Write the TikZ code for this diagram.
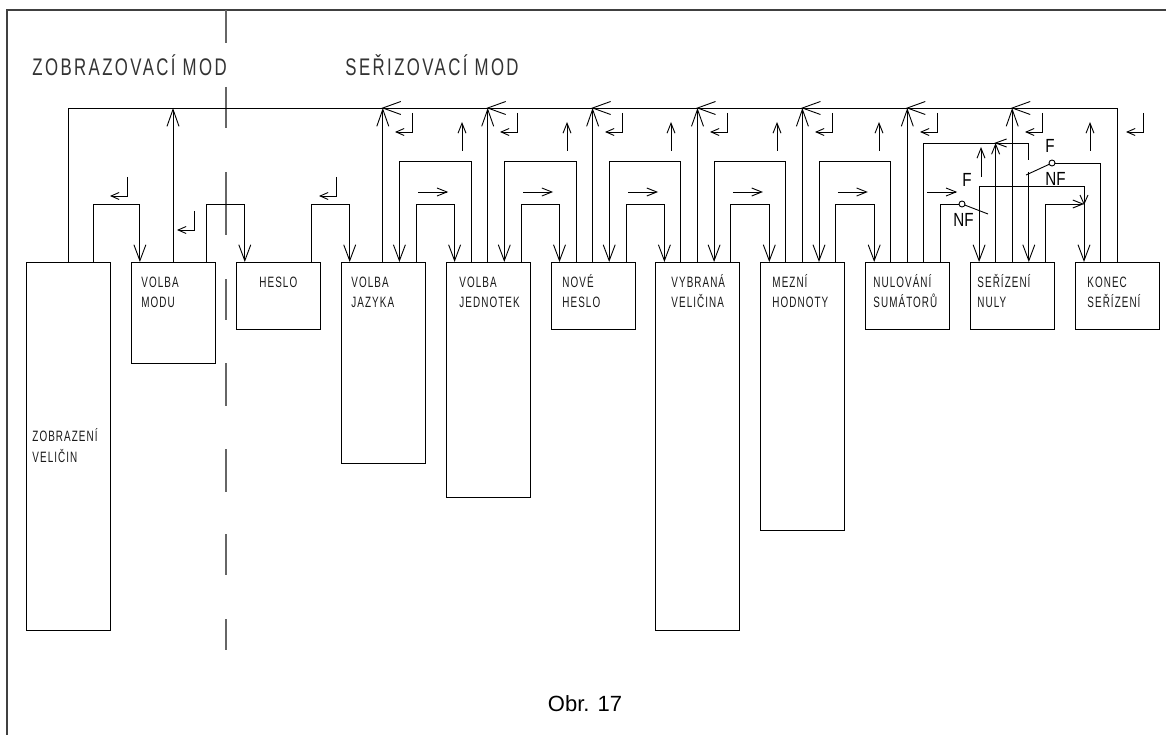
\documentclass[tikz,border=0pt]{standalone}
\usepackage{fontspec}
\setmainfont{Liberation Sans}
\newfontfamily\isof[FakeStretch=0.7,LetterSpace=10]{Liberation Sans}
\newfontfamily\isob[FakeStretch=0.66,LetterSpace=7]{Liberation Sans}
\newfontfamily\flf[FakeStretch=0.8]{Liberation Sans}
\usetikzlibrary{arrows.meta,calc}
\begin{document}
\begin{tikzpicture}[x=1pt,y=-1pt, line width=0.9pt,
 box/.style={draw, rectangle, inner sep=0pt, outer sep=0pt, minimum width=84pt, anchor=north west},
 lbl/.style={anchor=base west, inner sep=0pt, text=black!90, font=\isob\fontsize{15pt}{17pt}\selectfont},
 ttl/.style={anchor=base west, inner sep=0pt, text=black!80, font=\isof\fontsize{24pt}{28pt}\selectfont},
 flbl/.style={anchor=base west, inner sep=0pt, font=\flf\fontsize{19pt}{22pt}\selectfont},
 arrd/.style={-{Straight Barb[length=16pt,width=12pt]}},
 arru/.style={-{Straight Barb[length=17pt,width=12pt]}},
 arrs/.style={-{Straight Barb[length=10pt,width=8pt]}},
 arrr/.style={-{Straight Barb[length=8pt,width=7pt]}},
 pivot/.style={circle, draw, fill=white, inner sep=0pt, outer sep=0pt, minimum size=6pt},
 barbl/.pic={\draw (18,-6.5) -- (0,0) -- (18,6.5);},
 barbls/.pic={\draw (11,-4) -- (0,0) -- (11,4);},
 barbds/.pic={\draw (-4,-9) -- (0,0) -- (4,-9);},
 retsym/.pic={\draw[arrr] (0,0) -- (0,19) -- (-17,19);}
]
\useasboundingbox (0,0) rectangle (1166,735);

% frame
\draw[black!75, line width=1.2pt] (1166,10) -- (7,10) -- (7,735);

% dashed separator
\foreach \a/\b in {10/43,87/128,172/235,279/320,363/406,449/492,534/575,619/650}
  \draw[black!60, line width=1.2pt] (226,\a) -- (226,\b);

% titles
\node[ttl] (tz) at (32,76) {ZOBRAZOVACÍ MOD};
\node[ttl] (ts) at (345,76) {SEŘIZOVACÍ MOD};

% boxes
\foreach \i/\L/\h in {0/26.5/368, 1/131.4/101, 2/236.3/67, 3/341.2/201, 4/446.1/235, 5/551/67, 6/655.9/368, 7/760.8/268, 8/865.7/67, 9/970.6/67, 10/1075.5/67}
  \node[box, minimum height=\h pt] (b\i) at (\L,262) {};

% connection points on box tops
\foreach \i in {0,...,10} {
  \foreach \s/\o in {1/8.5,2/25,3/41.6,4/58.2,5/75} {
    \coordinate (b\i-\s) at ($(b\i.north west)+(\o,0)$);
  }
}
\coordinate (b0-x) at ($(b0.north west)+(66.5,0)$);

% box labels
\node[lbl] (t0a) at (32,441) {ZOBRAZENÍ};
\node[lbl] (t0b) at (32,462) {VELIČIN};
\node[lbl] (t1a) at (141,287) {VOLBA};
\node[lbl] (t1b) at (141,307) {MODU};
\node[lbl] (t2) at (259,287) {HESLO};
\node[lbl] (t3a) at (351,287) {VOLBA};
\node[lbl] (t3b) at (351,307) {JAZYKA};
\node[lbl] (t4a) at (459,287) {VOLBA};
\node[lbl] (t4b) at (459,307) {JEDNOTEK};
\node[lbl] (t5a) at (562,287) {NOVÉ};
\node[lbl] (t5b) at (562,307) {HESLO};
\node[lbl] (t6a) at (671,287) {VYBRANÁ};
\node[lbl] (t6b) at (671,307) {VELIČINA};
\node[lbl] (t7a) at (772,287) {MEZNÍ};
\node[lbl] (t7b) at (772,307) {HODNOTY};
\node[lbl] (t8a) at (873,287) {NULOVÁNÍ};
\node[lbl] (t8b) at (873,307) {SUMÁTORŮ};
\node[lbl] (t9a) at (977,287) {SEŘÍZENÍ};
\node[lbl] (t9b) at (977,307) {NULY};
\node[lbl] (t10a) at (1087,287) {KONEC};
\node[lbl] (t10b) at (1087,307) {SEŘÍZENÍ};

% main bus
\draw (b0-3) -- ++(0,-154) -| (b10-3);
\foreach \i in {1,3,4,5,6,7,8,9} \draw[arru] (b\i-3) -- ++(0,-154);
\foreach \i in {3,...,9} \path (b\i-3) ++(0,-154) pic {barbl};

% display mode part
\draw[arrd] (b0-x) -- ++(0,-58) -| (b1-1);
\draw[arrd] (b1-5) -- ++(0,-58) -| (b2-1);
\draw[arrd] (b2-5) -- ++(0,-58) -| (b3-1);

% setting mode pairs
\foreach \k/\n in {3/4,4/5,5/6,6/7,7/8} {
  \draw[arrd] (b\k-5) -- ++(0,-58) -| (b\n-1);
  \draw[arrd] (b\n-2) -- ++(0,-101) -| (b\k-4);
  \draw[arrs] ($(b\k.north west)+(77,-70)$) -- ++(30,0);
}
\draw[arrs] ($(b8.north west)+(61.5,-70)$) -- ++(30,0);

% up-arrow labels
\foreach \x in {462,567,671,777,879,1090} \draw[arrs] (\x,151) -- (\x,122);
\draw[arrs] (981,177) -- (981,147);

% enter symbols
\foreach \x/\y in {127/177, 194/211, 336/177, 412/113, 517/113, 622/113, 727/113, 832/113, 937/113, 1042/113, 1143/113}
  \path (\x,\y) pic {retsym};

% special area with switches
\node[pivot] (p1) at (962,204) {};
\node[pivot] (p2) at (1052,163) {};
\coordinate (bl1) at (988,214);
\coordinate (bl2) at (1026,175);
\coordinate (c2F) at ($(b9-4)+(0,-102)$);
\coordinate (c2N) at ($(b9-4)+(0,-90)$);
\coordinate (cF) at ($(b9-1)+(0,-76)$);
\coordinate (jK) at ($(b10-1)+(0,-58)$);

\draw (b8-4) -- ++(0,-119) -| (c2F);
\draw[arrs] (b9-2) -- ++(0,-119);
\path (b9-2) ++(0,-119) pic {barbls};
\draw (b10-2) |- (p2);
\draw (p2) -- (bl2);
\draw[arrd] (c2N) -- (b9-4);
\draw (b8-5) |- (p1);
\draw (p1) -- (bl1);
\draw[arrd] (cF) -- (b9-1);
\draw[arrd] (cF) -| (b10-1);
\draw[arrs] (b9-5) |- (jK);
\path (jK) pic {barbds};

\node[flbl] (f1) at (962,187) {F};
\node[flbl] (nf1) at (953,227) {NF};
\node[flbl] (f2) at (1045,153) {F};
\node[flbl] (nf2) at (1045,186) {NF};

% caption
\node[anchor=base, inner sep=0pt, font=\fontsize{22pt}{26pt}\selectfont] (obr) at (585,711) {Obr. 17};
\end{tikzpicture}
\end{document}
